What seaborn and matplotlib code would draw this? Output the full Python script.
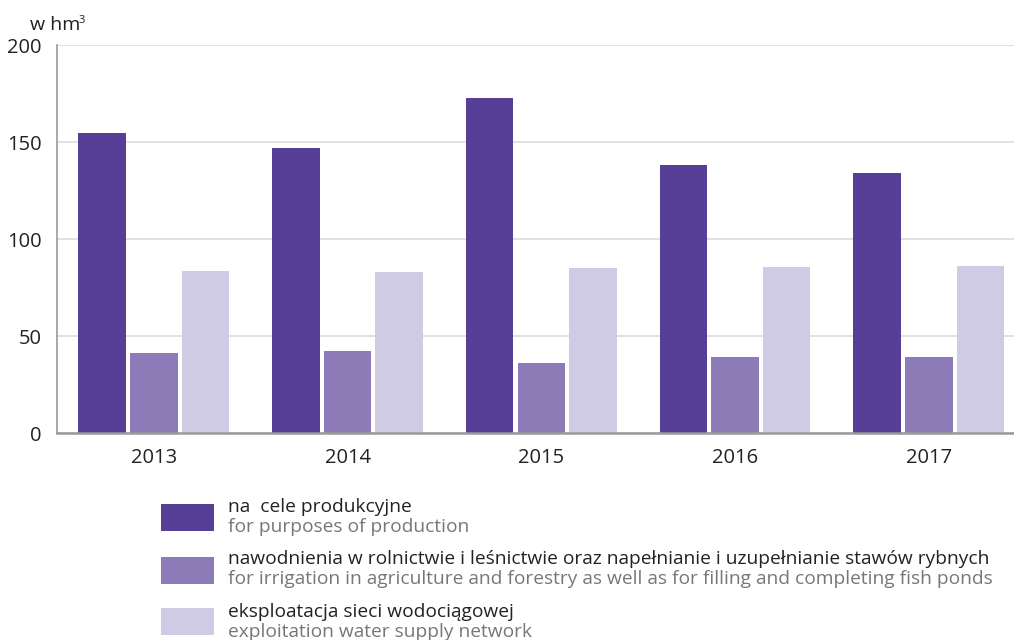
import numpy as np
import pandas as pd
import matplotlib
matplotlib.use("Agg")
import matplotlib.pyplot as plt
from matplotlib.patches import Rectangle
import seaborn as sns

years = ["2013", "2014", "2015", "2016", "2017"]
production = [155.0, 146.8, 172.6, 138.3, 134.2]
irrigation = [41.3, 42.4, 36.2, 39.3, 39.3]
water_supply = [83.7, 83.2, 85.3, 85.7, 86.2]

series_pl = ["na  cele produkcyjne",
             "nawodnienia w rolnictwie i leśnictwie oraz napełnianie i uzupełnianie stawów rybnych",
             "eksploatacja sieci wodociągowej"]
series_en = ["for purposes of production",
             "for irrigation in agriculture and forestry as well as for filling and completing fish ponds",
             "exploitation water supply network"]
colors = ["#573E96", "#8D7BB7", "#D0CBE4"]
yticks = [0, 50, 100, 150, 200]
unit_label = "w hm"
unit_sup = "3"

df = pd.DataFrame({
    "year": years * 3,
    "value": production + irrigation + water_supply,
    "series": [series_pl[0]] * 5 + [series_pl[1]] * 5 + [series_pl[2]] * 5,
})

sns.set_theme(style="white")
plt.rcParams["font.family"] = ["Open Sans", "DejaVu Sans"]

fig = plt.figure(figsize=(10.14, 6.4), dpi=100)
ax = fig.add_axes([0.0562, 0.3234, 0.9438, 0.6058])

sns.barplot(data=df, x="year", y="value", hue="series", palette=colors,
            width=0.8, gap=0.08, ax=ax, legend=False, saturation=1,
            linewidth=0, edgecolor="none")

ax.set_xlim(-0.5, 4.44)
ax.set_ylim(0, 200)
ax.set_yticks(yticks)
ax.set_yticklabels([str(t) for t in yticks], fontsize=14.5, color="#222222")
ax.tick_params(axis="x", labelsize=14.5, colors="#222222", length=0, pad=11)
ax.tick_params(axis="y", length=0, pad=11)
for lbl in ax.get_xticklabels():
    lbl.set_color("#222222")
ax.set_xlabel("")
ax.set_ylabel("")
ax.grid(axis="y", color="#d9d9d9", linewidth=1.1)
ax.set_axisbelow(True)
for s in ["top", "right"]:
    ax.spines[s].set_visible(False)
ax.spines["left"].set_color("#9a9a9a")
ax.spines["left"].set_linewidth(1.2)
ax.spines["bottom"].set_color("#9a9a9a")
ax.spines["bottom"].set_linewidth(1.8)

W, H = 1014, 640
fig.text(30 / W, 1 - 29.5 / H, unit_label, fontsize=14, color="#222222",
         ha="left", va="baseline")
fig.text(79 / W, 1 - 23 / H, unit_sup, fontsize=8, color="#222222",
         ha="left", va="baseline")

patch_tops = [504, 557, 608]
black_base = [512, 564, 617]
gray_base = [532, 584, 637]
for i in range(3):
    top = patch_tops[i]
    fig.patches.append(Rectangle((161 / W, 1 - (top + 27) / H), 53 / W, 27 / H,
                                 transform=fig.transFigure, facecolor=colors[i],
                                 edgecolor="none"))
    fig.text(228 / W, 1 - black_base[i] / H, series_pl[i], fontsize=13.8,
             color="#222222", ha="left", va="baseline")
    fig.text(228 / W, 1 - gray_base[i] / H, series_en[i], fontsize=13.8,
             color="#777777", ha="left", va="baseline")

fig.savefig("out.png", dpi=100)
